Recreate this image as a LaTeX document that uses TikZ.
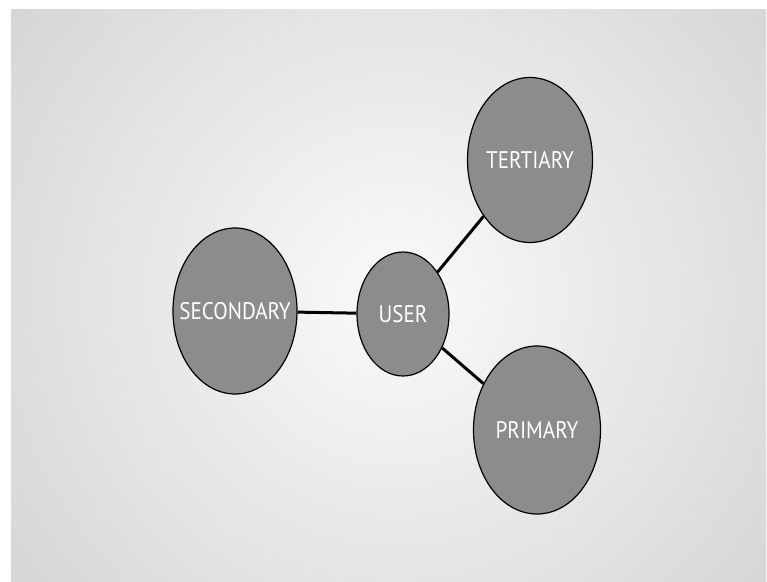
\documentclass[tikz,border=0pt]{standalone}
\usepackage{fontspec}
\usepackage{graphicx}
\setmainfont{PT Sans}
\usetikzlibrary{shapes.geometric}
\definecolor{bubble}{HTML}{8C8C8C}
\definecolor{bgedge}{HTML}{D6D6D6}
\definecolor{bgmid}{HTML}{FAFAFA}
\pgfdeclareradialshading{bgshade}{\pgfpoint{0bp}{0bp}}{color(0bp)=(bgmid); color(25bp)=(bgedge); color(50bp)=(bgedge)}
\newcommand{\lbl}[1]{\makebox[0pt]{\scalebox{0.88}[1]{#1}}}
\begin{document}
\begin{tikzpicture}[x=1pt,y=-1pt,
  bubble/.style={ellipse, draw=black, line width=1.2pt, fill=bubble, inner sep=0pt,
    text=white, font=\fontsize{24}{26}\selectfont},
  link/.style={draw=black, line width=3pt}]
\useasboundingbox (0,0) rectangle (767,581);
\fill[white] (0,0) rectangle (767,581);
\begin{scope}
\clip (11,9) rectangle (766,581);
\shade[shading=bgshade] (395,295) circle (480pt);
\end{scope}
\node[bubble, minimum width=124pt, minimum height=166pt] (sec) at (235,311) {\lbl{SECONDARY}};
\node[bubble, minimum width=92pt, minimum height=124pt] (user) at (403,314) {\lbl{USER}};
\node[bubble, minimum width=125pt, minimum height=165pt] (ter) at (530,160) {\lbl{TERTIARY}};
\node[bubble, minimum width=127pt, minimum height=168pt] (pri) at (537,430) {\lbl{PRIMARY}};
\draw[link] (sec) -- (user);
\draw[link] (user) -- (ter);
\draw[link] (user) -- (pri);
\end{tikzpicture}
\end{document}
